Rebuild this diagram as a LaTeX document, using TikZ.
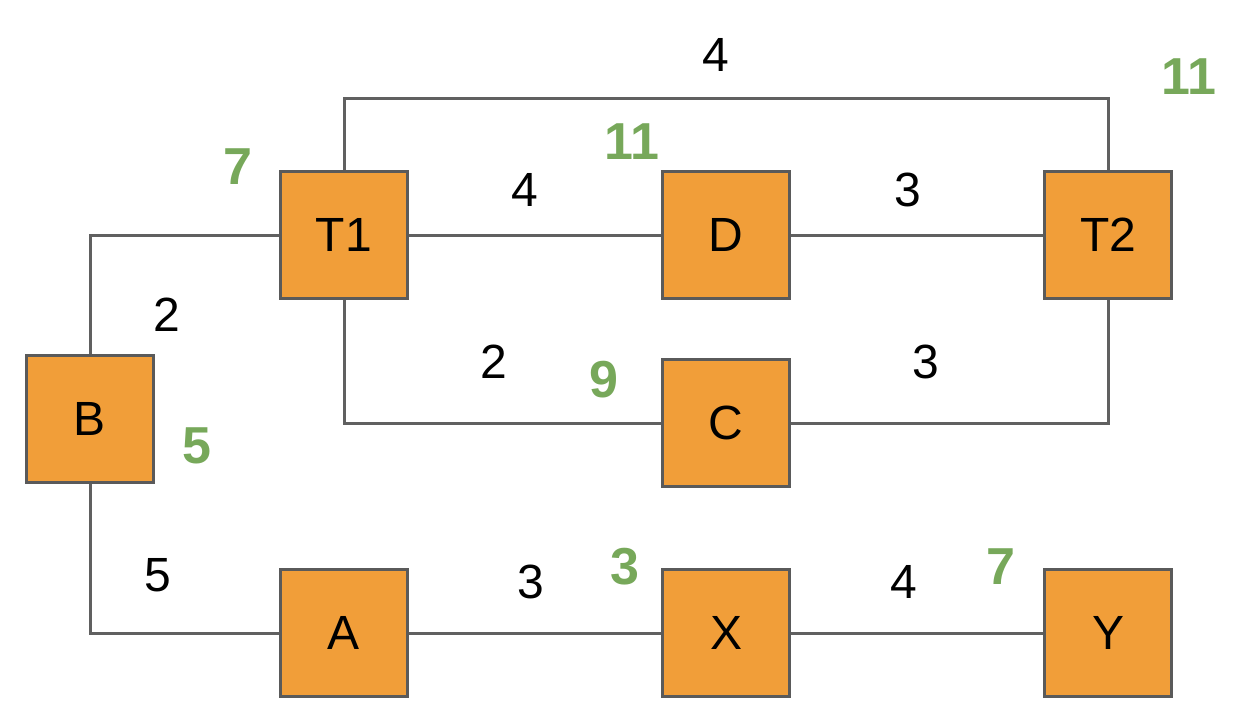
\documentclass[tikz,border=0pt]{standalone}
\usepackage{fontspec}
\setmainfont{Liberation Sans}
\usetikzlibrary{backgrounds}
\definecolor{boxfill}{HTML}{F19E39}
\definecolor{boxline}{HTML}{5A5A5A}
\definecolor{wire}{HTML}{606060}
\definecolor{cost}{HTML}{77A85A}
\tikzset{
  stepbox/.style={draw=boxline, line width=3pt, fill=boxfill, minimum width=127pt, minimum height=127pt, inner sep=0pt, font=\fontsize{48}{48}\selectfont},
  wt/.style={font=\fontsize{48}{48}\selectfont, inner sep=0pt},
  gn/.style={font=\fontsize{52}{52}\selectfont\bfseries, text=cost, inner sep=0pt},
  link/.style={draw=wire, line width=3pt}
}
\begin{document}
\begin{tikzpicture}[x=1pt,y=-1pt]
\useasboundingbox (0,0) rectangle (1240,710);
% boxes
\node[stepbox] (T1) at (344,235) {T1};
\node[stepbox] (D) at (726,235) {D};
\node[stepbox] (T2) at (1108,235) {T2};
\node[stepbox] (C) at (726,423) {C};
\node[stepbox] (B) at (90,419) {B};
\node[stepbox] (A) at (344,633) {A};
\node[stepbox] (X) at (726,633) {X};
\node[stepbox] (Y) at (1108,633) {Y};
% corner coordinates
\coordinate (tl) at (344,98);
\coordinate (tr) at (1108,98);
\coordinate (bt) at (90,235);
\coordinate (bb) at (90,633);
\coordinate (cl) at (344,423);
\coordinate (cr) at (1108,423);
% edges
\begin{scope}[on background layer]
\draw[link] (T1.center) -- (tl) -- (tr) -- (T2.center);
\draw[link] (B.center) -- (bt) -- (T1.center);
\draw[link] (B.center) -- (bb) -- (A.center);
\draw[link] (T1.center) -- (cl) -- (C.center);
\draw[link] (C.center) -- (cr) -- (T2.center);
\draw[link] (T1.center) -- (D.center);
\draw[link] (D.center) -- (T2.center);
\draw[link] (A.center) -- (X.center);
\draw[link] (X.center) -- (Y.center);
\end{scope}
% weights
\node[wt] (w1) at (716,55) {4};
\node[wt] (w2) at (525,190) {4};
\node[wt] (w3) at (908,190) {3};
\node[wt] (w4) at (167,315) {2};
\node[wt] (w5) at (494,362) {2};
\node[wt] (w6) at (926,362) {3};
\node[wt] (w7) at (158,575) {5};
\node[wt] (w8) at (531,582) {3};
\node[wt] (w9) at (904,582) {4};
% green costs
\node[gn] (g1) at (1189,77) {11};
\node[gn] (g2) at (632,142) {11};
\node[gn] (g3) at (238,167) {7};
\node[gn] (g4) at (604,380) {9};
\node[gn] (g5) at (197,446) {5};
\node[gn] (g6) at (625,567) {3};
\node[gn] (g7) at (1001,567) {7};
\end{tikzpicture}
\end{document}
